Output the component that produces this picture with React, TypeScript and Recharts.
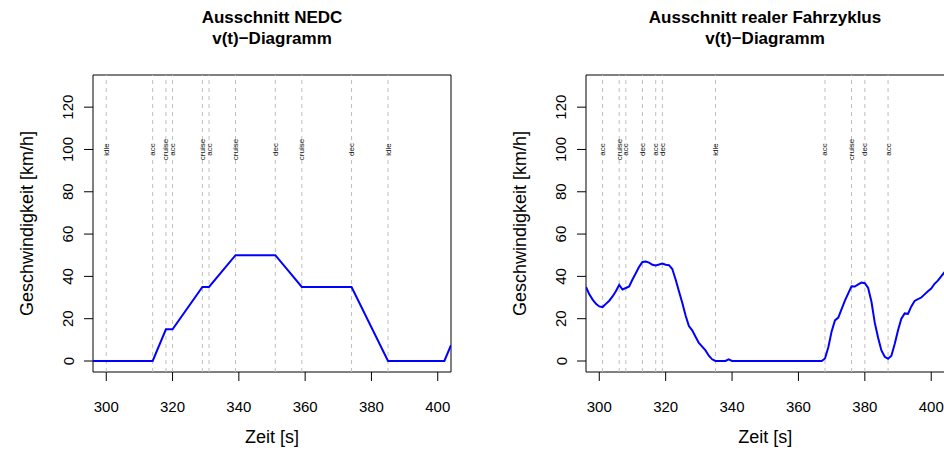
import React from 'react';
import {
  ComposedChart,
  Line,
  Scatter,
  XAxis,
  YAxis,
  ReferenceLine,
  ReferenceArea,
} from 'recharts';

// ---------- data ----------
const xTicks = [300, 320, 340, 360, 380, 400];
const yTicks = [0, 20, 40, 60, 80, 100, 120];
const xDomain: [number, number] = [296, 404];
const yDomain: [number, number] = [-5.2, 135.2];

const nedcTime = [296, 314, 318, 320, 329, 331, 339, 351, 359, 374, 385, 402, 404];
const nedcSpeed = [0, 0, 15, 15, 35, 35, 50, 50, 35, 35, 0, 0, 7.5];

const nedcPhaseTime = [300, 314, 318, 320, 329, 331, 339, 351, 359, 374, 385];
const nedcPhaseLabel = ['idle', 'acc', 'cruise', 'acc', 'cruise', 'acc', 'cruise', 'dec', 'cruise', 'dec', 'idle'];

const realTime = [
  296, 297, 298, 299, 300, 301, 302, 303, 304, 305, 306, 307, 308, 309, 310, 311, 312, 313, 314, 315,
  316, 317, 318, 319, 320, 321, 322, 323, 324, 325, 326, 327, 328, 329, 330, 331, 332, 333, 334, 335,
  336, 337, 338, 339, 340, 367, 368, 369, 370, 371, 372, 373, 374, 375, 376, 377, 378, 379, 380, 381,
  382, 383, 384, 385, 386, 387, 388, 389, 390, 391, 392, 393, 394, 395, 396, 397, 398, 399, 400, 401,
  402, 403, 404,
];
const realSpeed = [
  35, 31.5, 29, 27, 25.8, 25.5, 27, 28.5, 30.5, 33, 36, 33.8, 34.5, 35.2, 38.5, 41.5, 44.5, 46.8, 47, 46.5,
  45.5, 45.2, 45.6, 46.1, 45.5, 45.3, 43.5, 38.5, 33, 27.5, 21.5, 16.5, 14.5, 11.5, 8.5, 6.8, 5, 2.5, 0.8, 0,
  0, 0, 0, 0.8, 0, 0, 1.2, 6.5, 14, 19.2, 20.5, 24.5, 28.5, 32, 35.3, 35.2, 36.2, 37.1, 36.8, 34.5,
  28, 18, 11, 5, 2, 1.1, 2.5, 8, 14.5, 20, 22.5, 22.3, 25.8, 28.4, 29.2, 30, 31.5, 33, 34.2, 36.5,
  38, 40, 42,
];

const realPhaseTime = [301, 306, 308, 313, 317, 319, 335, 368, 376, 380, 387];
const realPhaseLabel = ['acc', 'cruise', 'acc', 'dec', 'acc', 'dec', 'idle', 'acc', 'cruise', 'dec', 'acc'];

const phaseLabelLevel = 100;

const titles = [
  ['Ausschnitt NEDC', 'v(t)\u2212Diagramm'],
  ['Ausschnitt realer Fahrzyklus', 'v(t)\u2212Diagramm'],
];
const xLabel = 'Zeit [s]';
const yLabel = 'Geschwindigkeit [km/h]';

// ---------- style ----------
const FONT = '"Liberation Sans", Arial, Helvetica, sans-serif';
const TICK_FS = 15;
const LAB_FS = 18;
const TITLE_FS = 17;
const PHASE_FS = 8;
const TICK_LEN = 9;

const XTick = (props: any) => {
  const { x, y, payload } = props;
  return (
    <text x={x} y={y + 25} textAnchor="middle" dominantBaseline="central" fontFamily={FONT} fontSize={TICK_FS} fill="#000">
      {payload.value}
    </text>
  );
};

const YTick = (props: any) => {
  const { x, y, payload } = props;
  const cx = x - 16;
  return (
    <text
      x={cx}
      y={y}
      textAnchor="middle"
      dominantBaseline="central"
      transform={`rotate(-90, ${cx}, ${y})`}
      fontFamily={FONT}
      fontSize={TICK_FS}
      fill="#000"
    >
      {payload.value}
    </text>
  );
};

const PhaseShape = (props: any) => {
  const { cx, cy, payload } = props;
  return (
    <text
      x={cx}
      y={cy}
      textAnchor="middle"
      dominantBaseline="central"
      transform={`rotate(-90, ${cx}, ${cy})`}
      fontFamily={FONT}
      fontSize={PHASE_FS}
      fill="#222"
    >
      {payload.label}
    </text>
  );
};

type PanelProps = {
  times: number[];
  speeds: number[];
  phaseTimes: number[];
  phaseLabels: string[];
  width: number;
  margin: { top: number; right: number; bottom: number; left: number };
};

const Panel = ({ times, speeds, phaseTimes, phaseLabels, width, margin }: PanelProps) => {
  const lineData = times.map((t, i) => ({ t, v: speeds[i] }));
  const phaseData = phaseTimes.map((t, i) => ({ t, y: phaseLabelLevel, label: phaseLabels[i] }));
  return (
    <ComposedChart width={width} height={453} margin={margin}>
      <XAxis
        type="number"
        dataKey="t"
        domain={xDomain}
        ticks={xTicks}
        allowDataOverflow
        axisLine={false}
        tickLine={{ stroke: '#000' }}
        tickSize={TICK_LEN}
        tickMargin={0}
        height={60}
        tick={XTick}
        label={{
          content: (p: any) => {
            const vb = p.viewBox;
            return (
              <text
                x={vb.x + vb.width / 2}
                y={vb.y + 65}
                textAnchor="middle"
                dominantBaseline="central"
                fontFamily={FONT}
                fontSize={LAB_FS}
                fill="#000"
              >
                {xLabel}
              </text>
            );
          },
        }}
      />
      <YAxis
        type="number"
        domain={yDomain}
        ticks={yTicks}
        allowDataOverflow
        axisLine={false}
        tickLine={{ stroke: '#000' }}
        tickSize={TICK_LEN}
        tickMargin={0}
        width={60}
        tick={YTick}
        label={{
          content: (p: any) => {
            const vb = p.viewBox;
            const cx = vb.x + vb.width - 66;
            const cy = vb.y + vb.height / 2;
            return (
              <text
                x={cx}
                y={cy}
                textAnchor="middle"
                dominantBaseline="central"
                transform={`rotate(-90, ${cx}, ${cy})`}
                fontFamily={FONT}
                fontSize={LAB_FS}
                fill="#000"
              >
                {yLabel}
              </text>
            );
          },
        }}
      />
      {phaseTimes.map((t) => (
        <ReferenceLine key={t} x={t} stroke="#BEBEBE" strokeDasharray="4 4" strokeWidth={1} />
      ))}
      <Line
        data={lineData}
        dataKey="v"
        type="linear"
        stroke="#0000FF"
        strokeWidth={2}
        dot={false}
        activeDot={false}
        isAnimationActive={false}
      />
      <Scatter data={phaseData} dataKey="y" shape={PhaseShape} isAnimationActive={false} />
      <ReferenceArea
        x1={xDomain[0]}
        x2={xDomain[1]}
        y1={yDomain[0]}
        y2={yDomain[1]}
        fill="none"
        fillOpacity={0}
        stroke="#000"
        strokeWidth={1}
        ifOverflow="visible"
      />
    </ComposedChart>
  );
};

const Title = ({ lines, cx }: { lines: string[]; cx: number }) => (
  <div
    style={{
      position: 'absolute',
      left: cx - 200,
      top: 7,
      width: 400,
      textAlign: 'center',
      fontFamily: FONT,
      fontWeight: 'bold',
      fontSize: TITLE_FS,
      lineHeight: '21px',
      color: '#000',
    }}
  >
    {lines.map((l) => (
      <div key={l}>{l}</div>
    ))}
  </div>
);

export default function App() {
  return (
    <div
      style={{
        position: 'absolute',
        left: 0,
        top: 0,
        width: 944,
        height: 453,
        overflow: 'hidden',
        background: '#fff',
      }}
    >
      <div style={{ position: 'absolute', left: 0, top: 0 }}>
        <Panel
          times={nedcTime}
          speeds={nedcSpeed}
          phaseTimes={nedcPhaseTime}
          phaseLabels={nedcPhaseLabel}
          width={472}
          margin={{ top: 75, right: 21, bottom: 21, left: 33 }}
        />
      </div>
      <div style={{ position: 'absolute', left: 472, top: 0 }}>
        <Panel
          times={realTime}
          speeds={realSpeed}
          phaseTimes={realPhaseTime}
          phaseLabels={realPhaseLabel}
          width={480}
          margin={{ top: 75, right: 7.5, bottom: 21, left: 54 }}
        />
      </div>
      <Title lines={titles[0]} cx={272} />
      <Title lines={titles[1]} cx={765} />
    </div>
  );
}
